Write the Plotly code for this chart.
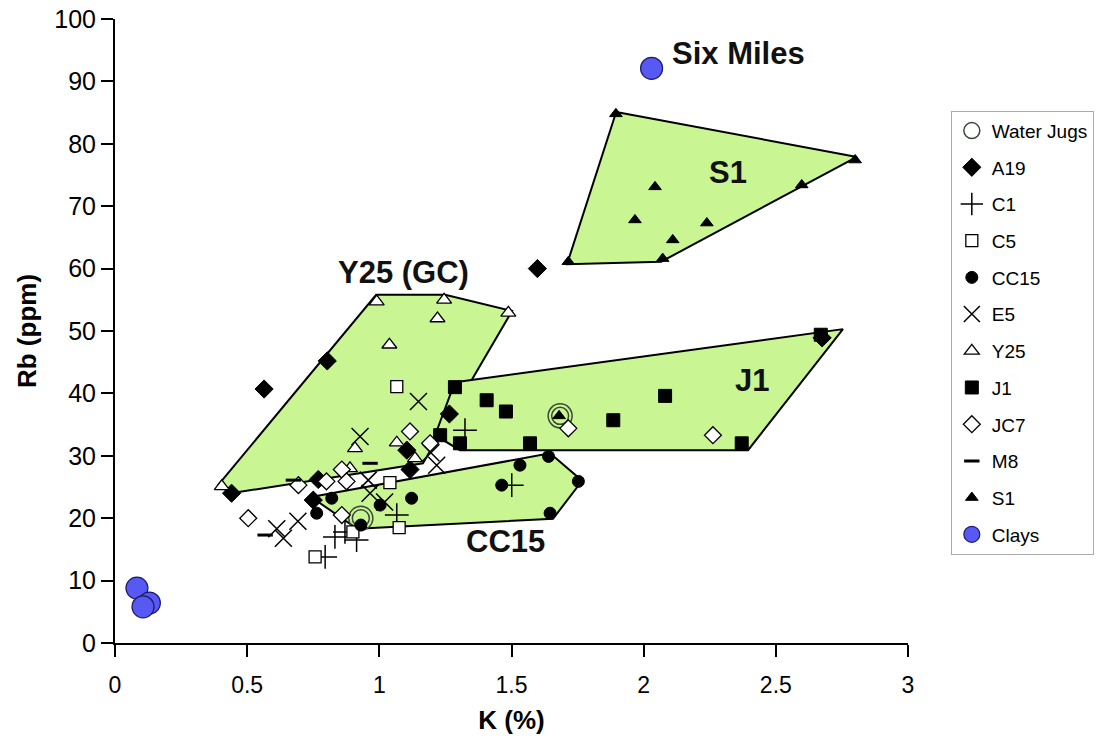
import plotly.graph_objects as go

# ---------------- data ----------------
water_x = [0.93, 1.684]
water_y = [20.0, 36.4]

a19_x = [0.564, 0.803, 1.598, 1.265, 2.675, 0.441, 0.769, 1.116, 1.104, 0.750]
a19_y = [40.7, 45.2, 60.0, 36.7, 48.9, 24.0, 26.2, 27.8, 30.9, 22.9]

c1_x = [1.324, 1.501, 0.832, 0.914, 0.870, 0.795, 1.066]
c1_y = [34.1, 25.3, 17.0, 16.5, 17.8, 13.8, 20.5]

c5_x = [1.066, 1.040, 1.075, 0.757, 0.900]
c5_y = [41.1, 25.7, 18.5, 13.8, 17.8]

cc15_x = [1.122, 1.003, 0.820, 0.763, 0.930, 1.463, 1.532, 1.640, 1.753, 1.646]
cc15_y = [23.2, 22.1, 23.2, 20.8, 18.9, 25.3, 28.5, 29.9, 25.9, 20.8]

e5_x = [1.148, 0.927, 1.195, 1.217, 0.958, 0.965, 1.020, 0.612, 0.692, 0.637]
e5_y = [38.7, 33.1, 30.5, 28.5, 26.1, 24.0, 22.6, 18.3, 19.5, 16.8]

y25_x = [0.990, 1.245, 1.488, 1.220, 1.038, 0.404, 0.908, 1.066, 1.135, 0.889]
y25_y = [54.7, 55.0, 52.9, 52.0, 47.8, 25.1, 31.2, 32.1, 29.6, 28.0]

j1_x = [1.286, 1.406, 1.479, 2.081, 1.885, 1.570, 2.371, 1.230, 1.305, 2.670]
j1_y = [41.0, 38.9, 37.1, 39.6, 35.7, 32.0, 32.0, 33.3, 32.0, 49.4]

jc7_x = [1.715, 2.262, 1.116, 1.192, 0.858, 0.876, 0.800, 0.694, 0.504, 0.858]
jc7_y = [34.4, 33.3, 33.9, 32.0, 27.8, 25.9, 25.9, 25.3, 20.0, 20.5]

m8_x = [0.965, 0.675, 0.568]
m8_y = [28.8, 26.1, 17.3]

s1_x = [1.895, 2.800, 2.043, 2.598, 1.967, 2.239, 2.110, 1.715, 2.072, 1.680]
s1_y = [84.8, 77.4, 73.1, 73.4, 67.8, 67.3, 64.6, 61.1, 61.6, 36.4]

clay_x = [2.03, 0.083, 0.130, 0.106]
clay_y = [92.1, 8.8, 6.4, 5.8]

# group outlines (hand-drawn polygons)
poly_s1_x = [1.896, 2.807, 2.066, 1.710]
poly_s1_y = [85.1, 77.9, 61.1, 60.7]
poly_y25_x = [0.390, 0.988, 1.249, 1.502, 1.165, 0.439]
poly_y25_y = [25.3, 55.8, 55.8, 53.2, 28.8, 24.0]
poly_j1_x = [1.286, 2.754, 2.395, 1.305, 1.211]
poly_j1_y = [41.8, 50.3, 30.9, 30.9, 33.3]
poly_cc15_x = [0.742, 1.646, 1.767, 1.657, 0.916]
poly_cc15_y = [23.4, 30.4, 26.0, 19.9, 18.3]

labels = [("Six Miles", 2.357, 94.4), ("S1", 2.32, 75.4), ("Y25 (GC)", 1.093, 59.3),
          ("J1", 2.41, 42.1), ("CC15", 1.476, 16.3)]

x_ticks = [0, 0.5, 1, 1.5, 2, 2.5, 3]
y_ticks = [0, 10, 20, 30, 40, 50, 60, 70, 80, 90, 100]

GREEN = "#c9f593"

fig = go.Figure()

def poly(px, py):
    fig.add_trace(go.Scatter(x=px + [px[0]], y=py + [py[0]], mode="lines", fill="toself",
                             fillcolor=GREEN, line=dict(color="black", width=2),
                             showlegend=False, hoverinfo="skip"))

poly(poly_s1_x, poly_s1_y)
poly(poly_y25_x, poly_y25_y)
poly(poly_cc15_x, poly_cc15_y)
poly(poly_j1_x, poly_j1_y)

def pts(name, x, y, symbol, size, color="black", lcolor="black", lw=1, show=True):
    fig.add_trace(go.Scatter(x=x, y=y, mode="markers", name=name, legendgroup=name,
                             showlegend=show,
                             marker=dict(symbol=symbol, size=size, color=color,
                                         line=dict(color=lcolor, width=lw))))

pts("Water Jugs", water_x, water_y, "circle-open", 24, color="#3a4a3a", lcolor="#3a4a3a", lw=1.5)
pts("Water Jugs", water_x, water_y, "circle-open", 17, color="#3a4a3a", lcolor="#3a4a3a", lw=1.5, show=False)
pts("A19", a19_x, a19_y, "diamond", 14)
pts("C1", c1_x, c1_y, "cross-thin-open", 17, lw=1.5)
pts("C5", c5_x, c5_y, "square", 12, color="white", lw=1.3)
pts("CC15", cc15_x, cc15_y, "circle", 12)
pts("E5", e5_x, e5_y, "x-thin-open", 17, lw=1.5)
pts("Y25", y25_x, y25_y, "triangle-up", 13, color="white", lw=1.3)
pts("J1", j1_x, j1_y, "square", 13)
pts("JC7", jc7_x, jc7_y, "diamond", 13, color="white", lw=1.3)
pts("M8", m8_x, m8_y, "line-ew-open", 11, lw=3)
pts("S1", s1_x, s1_y, "triangle-up", 11)
pts("Clays", clay_x, clay_y, "circle", 22, color="#5858f2", lcolor="#1c1c70", lw=1.2)

for txt, lx, ly in labels:
    fig.add_annotation(x=lx, y=ly, text="<b>%s</b>" % txt, showarrow=False,
                       font=dict(family="Arial", size=31, color="#111"))

fig.update_layout(
    width=1096, height=748,
    margin=dict(l=115, r=188, t=19, b=105, autoexpand=False),
    paper_bgcolor="white", plot_bgcolor="white",
    font=dict(family="Arial", color="black"),
    legend=dict(x=1.054, y=0.853, xanchor="left", yanchor="top",
                bordercolor="#aaaaaa", borderwidth=1, bgcolor="white",
                font=dict(size=19, family="Arial"), itemwidth=30,
                traceorder="grouped", tracegroupgap=9),
    xaxis=dict(range=[0, 3], tickvals=x_ticks, ticktext=[str(v) for v in x_ticks],
               showgrid=False, zeroline=False, showline=True, linecolor="black", linewidth=2,
               ticks="outside", ticklen=12, tickwidth=2, tickcolor="black", ticklabelstandoff=8,
               tickfont=dict(size=23), title=dict(text="<b>K (%)</b>", font=dict(size=26), standoff=14)),
    yaxis=dict(range=[0, 100], tickvals=y_ticks, showgrid=False, zeroline=False,
               showline=True, linecolor="black", linewidth=2,
               ticks="outside", ticklen=12, tickwidth=2, tickcolor="black",
               tickfont=dict(size=25), title=dict(text="<b>Rb (ppm)</b>", font=dict(size=26), standoff=10)),
)

fig.write_html("out.html")
